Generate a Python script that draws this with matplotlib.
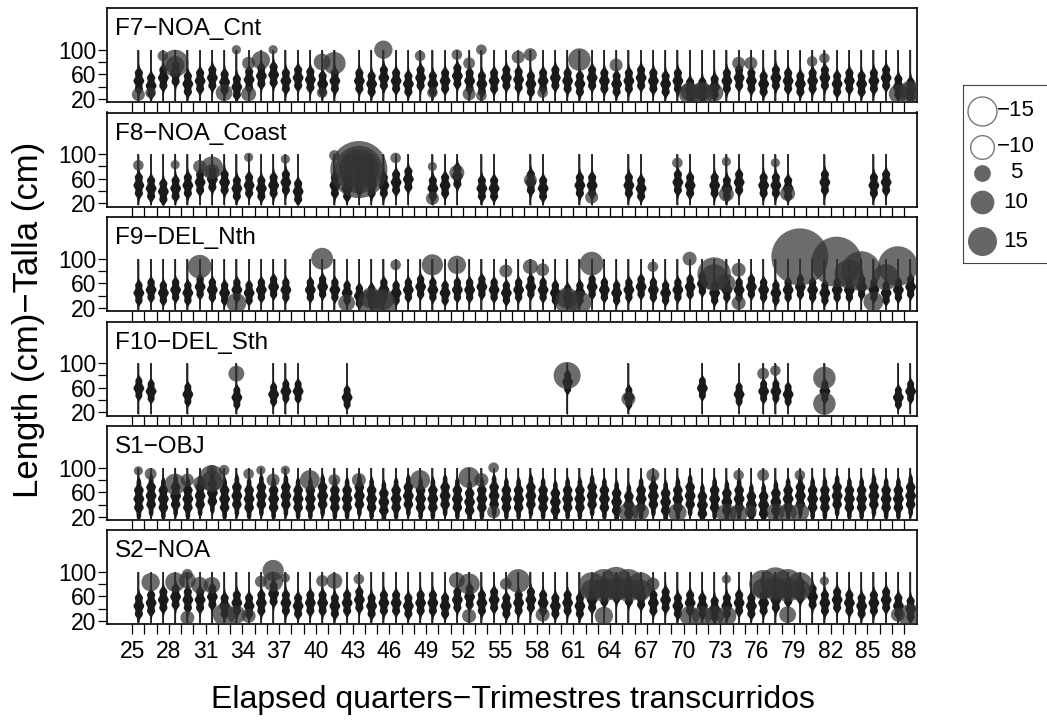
import numpy as np
import matplotlib.pyplot as plt

plt.rcParams['font.family'] = ['Liberation Sans', 'DejaVu Sans']

# panel names
names = ['F7\u2212NOA_Cnt', 'F8\u2212NOA_Coast', 'F9\u2212DEL_Nth', 'F10\u2212DEL_Sth', 'S1\u2212OBJ', 'S2\u2212NOA']

# quarters with a length composition, and the length where each body is widest
f7_q = list(range(25, 42)) + list(range(43, 89))
f7_mode = [50, 42, 55, 62, 45, 50, 55, 48, 40, 52, 58, 60, 50, 55, 52, 45, 50,
           50, 45, 55, 50, 45, 55, 45, 50, 58, 50, 45, 50, 55, 52, 45, 50, 55, 50, 45, 55,
           50, 45, 50, 55, 50, 45, 50, 35, 35, 40, 50, 55, 50, 45, 55, 50, 45, 50, 55, 45,
           50, 45, 50, 55, 40, 35]

f8_q = (list(range(25, 39)) + list(range(41, 48)) + [49, 50, 51, 53, 54, 57, 58, 61, 62,
        65, 66, 69, 70, 72, 73, 74, 76, 77, 78, 81, 85, 86])
f8_mode = [50, 45, 40, 45, 50, 55, 60, 55, 45, 50, 45, 50, 55, 40,
           50, 45, 55, 50, 50, 55, 60,
           45, 50, 65, 45, 45, 55, 45, 50, 50, 50, 45, 55, 50, 50, 45, 55, 50, 50, 45, 55, 50, 55]

f9_q = list(range(25, 38)) + list(range(39, 89))
f9_mode = [45, 50, 45, 50, 45, 55, 50, 45, 50, 45, 50, 55, 50,
           50, 55, 50, 45, 40, 40, 50, 45, 50, 55, 50, 45, 50, 50, 55, 50, 45, 50, 55, 50,
           45, 40, 45, 55, 50, 45, 50, 55, 50, 45, 50, 55, 60, 45, 50, 50, 55, 50, 45, 50,
           55, 50, 45, 50, 50, 55, 50, 45, 50, 55]

f10_q = [25, 26, 29, 33, 36, 37, 38, 42, 60, 65, 71, 74, 76, 77, 78, 81, 87, 88]
f10_mode = [60, 55, 50, 45, 50, 55, 55, 45, 70, 45, 60, 50, 55, 55, 50, 55, 45, 55]

s1_q = list(range(25, 89))
s1_mode = [50, 55, 50, 55, 50, 55, 60, 50, 55, 50, 55, 50, 55, 50, 50, 55, 50, 50, 55, 50,
           45, 50, 55, 50, 50, 55, 50, 45, 50, 55, 50, 50, 55, 50, 45, 50, 50, 55, 50, 45,
           40, 50, 55, 45, 50, 55, 40, 50, 45, 50, 40, 40, 45, 50, 55, 50, 50, 55, 50, 50,
           55, 50, 50, 55]

s2_q = list(range(25, 89))
s2_mode = [45, 50, 55, 60, 55, 55, 60, 45, 50, 45, 50, 65, 50, 45, 50, 50, 45, 50, 55, 45,
           50, 50, 45, 50, 50, 45, 55, 60, 50, 55, 45, 50, 55, 50, 45, 50, 45, 55, 65, 70,
           65, 60, 50, 55, 45, 50, 45, 40, 45, 50, 45, 50, 55, 65, 70, 60, 50, 55, 50, 45,
           50, 55, 45, 40]

spread = [17, 17, 15, 14, 24, 17]

# residual bubbles: quarter, length, residual
f7_bq = [25, 26, 27, 28, 28, 32, 33, 34, 34, 35, 36, 40, 40, 41, 45, 48, 49, 51, 52, 52, 53, 53,
         56, 57, 58, 61, 64, 70, 70, 71, 71, 72, 74, 75, 80, 81, 87, 88, 88]
f7_bl = [27, 30, 90, 78, 75, 30, 100, 28, 78, 83, 100, 80, 30, 78, 100, 90, 30, 92, 78, 28, 100, 25,
         88, 92, 30, 84, 75, 28, 32, 28, 33, 30, 78, 78, 81, 86, 28, 30, 32]
f7_br = [3, 2, 2, 13, 6, 5, 1.5, 4, 3, 6, 1.5, 5, 2, 9, 6, 2, 2, 2, 2.5, 3, 2, 2,
         3, 3, 2, 9, 3, 8, 6, 9, 6, 6, 3, 3, 2, 2, 6, 10, 6]

f8_bq = [25, 28, 30, 31, 31, 34, 37, 41, 43, 43, 43, 43, 46, 49, 49, 51, 57, 62, 69, 73, 73, 77, 78]
f8_bl = [82, 83, 80, 78, 72, 95, 92, 98, 75, 75, 75, 75, 94, 80, 28, 70, 58, 30, 86, 88, 35, 86, 36]
f8_br = [2, 1.5, 3, 9, 4, 1.5, 1.5, 2, 58, 40, 28, 18, 2, 1.5, 3, 4, 3, 3, 2, 1.5, 4, 1.5, 4]

f9_bq = [30, 33, 40, 42, 44, 45, 44, 45, 46, 49, 51, 55, 57, 58, 60, 61, 60, 62, 67, 70, 72,
         72, 73, 74, 74, 79, 82, 84, 87, 85, 83, 86]
f9_bl = [87, 28, 100, 28, 28, 26, 36, 34, 90, 90, 90, 80, 87, 82, 30, 28, 36, 92, 87, 100, 75,
         70, 60, 82, 28, 103, 95, 80, 88, 30, 75, 70]
f9_br = [10, 7, 8.5, 5, 13, 12, 8, 8, 2, 8, 6, 3, 4, 3, 11, 10, 8, 10, 2, 3.5, 20,
         12, 6, 3.5, 3.5, 58, 45, 28, 28, 7, 15, 12]

f10_bq = [33, 60, 65, 76, 77, 81, 81]
f10_bl = [83, 80, 42, 83, 88, 76, 34]
f10_br = [4.5, 13, 3.5, 2.5, 2, 9, 9]

s1_bq = [25, 26, 28, 29, 30, 31, 31, 31, 32, 34, 35, 36, 37, 39, 41, 43, 48, 52, 53, 54, 54,
         65, 66, 67, 69, 73, 74, 75, 77, 78, 79, 74, 76, 79]
s1_bl = [95, 90, 73, 80, 75, 83, 78, 96, 96, 90, 96, 80, 96, 80, 80, 80, 80, 84, 80, 100, 28,
         27, 28, 88, 27, 25, 25, 30, 27, 27, 27, 88, 88, 88]
s1_br = [1.5, 2.5, 8, 3, 3, 12, 8, 2, 2, 2, 1.5, 3, 1.5, 7, 2.5, 3.5, 7, 8, 3.5, 2, 3,
         7, 5, 3, 6, 7, 6, 2.5, 6, 6, 6, 2, 2.5, 2]

s2_bq = [26, 28, 29, 29, 29, 30, 31, 32, 33, 34, 35, 36, 36, 37, 40, 41, 43, 51, 52, 52,
         55, 56, 58, 62, 63, 64, 65, 66, 62, 63, 64, 65, 66, 63, 67, 70, 71, 72, 73, 73,
         76, 77, 78, 79, 76, 77, 78, 79, 78, 81, 87, 88]
s2_bl = [83, 83, 86, 96, 25, 78, 78, 30, 30, 28, 84, 102, 84, 90, 85, 85, 88, 86, 80, 28,
         80, 85, 30, 78, 80, 82, 80, 78, 70, 70, 72, 70, 70, 28, 80, 28, 28, 28, 28, 88,
         80, 82, 80, 78, 72, 72, 70, 70, 30, 85, 30, 28]
s2_br = [6, 7, 5, 2, 3.5, 5, 5, 9, 6, 3.5, 2.5, 8, 7, 1.5, 2.5, 4.5, 2, 4.5, 8, 3.5,
         2.5, 10, 3.5, 12, 16, 18, 16, 12, 8, 10, 10, 10, 8, 6, 3, 7, 7, 7, 7, 1.5,
         14, 17, 16, 12, 8, 10, 10, 8, 5, 1.5, 3.5, 10]

quarters = [f7_q, f8_q, f9_q, f10_q, s1_q, s2_q]
modes = [f7_mode, f8_mode, f9_mode, f10_mode, s1_mode, s2_mode]
bub_q = [f7_bq, f8_bq, f9_bq, f10_bq, s1_bq, s2_bq]
bub_l = [f7_bl, f8_bl, f9_bl, f10_bl, s1_bl, s2_bl]
bub_r = [f7_br, f8_br, f9_br, f10_br, s1_br, s2_br]

legend_vals = [-15, -10, 5, 10, 15]

W, H = 1047, 721
fig = plt.figure(figsize=(W / 100, H / 100), dpi=100)

left, right = 107, 917
tops = [8, 112.5, 217, 321.5, 426, 530]
ph = 94

dark = '#1a1a1a'
ygrid = np.linspace(17, 100, 200)

for i in range(6):
    ax = fig.add_axes([left / W, 1 - (tops[i] + ph) / H, (right - left) / W, ph / H])
    ax.set_xlim(22.94, 89.06)
    ax.set_ylim(14.8, 168)

    for q, m in zip(quarters[i], modes[i]):
        x = q + 0.5
        z = np.abs(ygrid - m) / spread[i]
        half = 0.44 * np.exp(-0.5 * z ** 3) * (0.84 + 0.16 * np.cos(2 * np.pi * (ygrid - m) / 15))
        half = np.maximum(half, 0.04)
        ax.fill_betweenx(ygrid, x - half, x + half, color=dark, lw=0, zorder=2)
        ax.vlines(x, 17, 100, color=dark, lw=1.2, zorder=2)

    bx = np.array(bub_q[i]) + 0.5
    br = np.abs(np.array(bub_r[i]))
    ax.scatter(bx, bub_l[i], s=29.1 * br, color='#333333', alpha=0.72, lw=0, zorder=3)

    ax.text(0.01, 0.775, names[i], transform=ax.transAxes, ha='left', va='center', fontsize=17.5)

    ax.set_yticks([20, 40, 60, 80, 100])
    ax.set_yticklabels(['20', '', '60', '', '100'], fontsize=16.5)
    ax.set_xticks(range(25, 89))
    if i == 5:
        ax.set_xticklabels([str(q) if (q - 25) % 3 == 0 else '' for q in range(25, 89)], fontsize=16.5)
    else:
        ax.set_xticklabels([])
    ax.tick_params(axis='x', direction='out', length=7.4, width=0.9, pad=4)
    ax.tick_params(axis='y', direction='out', length=6.5, width=0.9, pad=1)
    for sp in ax.spines.values():
        sp.set_linewidth(1.2)

fig.text(513 / W, 1 - 700 / H, 'Elapsed quarters\u2212Trimestres transcurridos',
         ha='center', va='center', fontsize=23)
fig.text(29 / W, 1 - 320 / H, 'Length (cm)\u2212Talla (cm)', ha='center', va='center',
         rotation=90, fontsize=25)

# legend drawn in pixel units
lax = fig.add_axes([963 / W, 1 - 263 / H, 100 / W, 178 / H])
lax.set_xlim(0, 100)
lax.set_ylim(263, 85)
lax.set_xticks([])
lax.set_yticks([])
for sp in lax.spines.values():
    sp.set_linewidth(0.8)
    sp.set_color('#444444')
ly = [111, 147, 173, 202, 241]
lx = [34, 34, 47, 40, 40]
for v, x, y in zip(legend_vals, lx, ly):
    if v < 0:
        lax.scatter(19, y, s=29.1 * abs(v), facecolor='white', edgecolor='#777777', lw=1, clip_on=False)
    else:
        lax.scatter(19, y, s=29.1 * v, color='#333333', alpha=0.75, lw=0, clip_on=False)
    lax.text(x, y, str(v).replace('-', '\u2212'), ha='left', va='center', fontsize=16)

fig.savefig('out.png', dpi=100)
